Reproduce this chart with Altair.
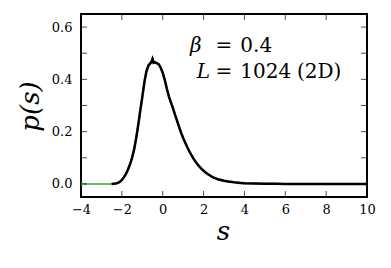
import altair as alt
import pandas as pd

# Histogram p(s) (black)
s_vals = [-2.5, -2.4, -2.3, -2.2, -2.1, -2.0, -1.9, -1.8, -1.7, -1.6, -1.5, -1.4, -1.3, -1.2, -1.1,
          -1.0, -0.9, -0.8, -0.7, -0.6, -0.55, -0.5, -0.45, -0.4, -0.3, -0.2, -0.1, 0.0, 0.1, 0.2, 0.3, 0.4,
          0.5, 0.6, 0.7, 0.8, 0.9, 1.0, 1.1, 1.2, 1.3, 1.4, 1.5, 1.6, 1.7, 1.8, 1.9, 2.0, 2.1, 2.2,
          2.3, 2.4, 2.5, 2.6, 2.7, 2.8, 2.9, 3.0, 3.2, 3.4, 3.6, 3.8, 4.0, 4.5, 5.0, 5.5, 6.0, 10.0]
p_vals = [0.000, 0.001, 0.002, 0.004, 0.008, 0.015, 0.025, 0.038, 0.055, 0.075, 0.100, 0.132, 0.175, 0.225, 0.280,
          0.332, 0.388, 0.430, 0.453, 0.462, 0.468, 0.478, 0.464, 0.466, 0.462, 0.458, 0.445, 0.425, 0.398, 0.365, 0.335, 0.312,
          0.290, 0.265, 0.242, 0.218, 0.196, 0.176, 0.158, 0.141, 0.125, 0.111, 0.098, 0.086, 0.075, 0.066, 0.058, 0.050, 0.044, 0.038,
          0.033, 0.028, 0.024, 0.021, 0.018, 0.016, 0.014, 0.012, 0.009, 0.007, 0.005, 0.004, 0.003, 0.0015, 0.0008, 0.0003, 0.0, 0.0]

# Green reference curve: flat part on the left, then hidden under the black one
g_s = [-4.0, -3.0] + s_vals
g_p = [0.0, 0.0] + p_vals

x_ticks = [-4, -2, 0, 2, 4, 6, 8, 10]
y_ticks = [0.0, 0.1, 0.2, 0.3, 0.4, 0.5, 0.6]

ann_text = ["β", "=", "0.4", "L", "=", "1024", "(2D)"]
ann_s = [1.34, 2.58, 3.80, 1.66, 2.58, 3.80, 6.57]
ann_p = [0.503, 0.503, 0.503, 0.404, 0.404, 0.404, 0.404]
ann_style = ["italic", "normal", "normal", "italic", "normal", "normal", "normal"]

XMIN, XMAX = -4, 10
YMIN, YMAX = -0.05, 0.65
FONT = "DejaVu Serif"

df = pd.DataFrame({"s": s_vals, "p": p_vals})
dg = pd.DataFrame({"s": g_s, "p": g_p})
dxt = pd.DataFrame({"t": x_ticks})
dyt = pd.DataFrame({"t": y_ticks})
dann = pd.DataFrame({"text": ann_text, "s": ann_s, "p": ann_p, "style": ann_style})

xscale = alt.Scale(domain=[XMIN, XMAX], nice=False, zero=False)
yscale = alt.Scale(domain=[YMIN, YMAX], nice=False, zero=False)

xaxis = alt.Axis(values=x_ticks, tickSize=0, domain=False, grid=False, labelFont=FONT,
                 labelFontSize=13, labelColor="black", labelPadding=6, labelFlush=False,
                 title="s", titleFont=FONT, titleFontSize=26, titleFontStyle="italic",
                 titleFontWeight="normal", titleColor="black", titleX=142, titleY=34,
                 titleBaseline="middle", titleAlign="center")
yaxis = alt.Axis(values=y_ticks, tickSize=0, domain=False, grid=False, labelFont=FONT,
                 labelFontSize=13, labelColor="black", labelPadding=9, format=".1f",
                 labelFlush=False,
                 title="p(s)", titleFont=FONT, titleFontSize=26, titleFontStyle="italic",
                 titleFontWeight="normal", titleColor="black", titleX=-51, titleY=92,
                 titleBaseline="middle", titleAlign="center", titleAngle=-90)

green = alt.Chart(dg).mark_line(color="#66bb66", strokeWidth=2).encode(
    x=alt.X("s:Q", scale=xscale, axis=xaxis),
    y=alt.Y("p:Q", scale=yscale, axis=yaxis),
)
black = alt.Chart(df).mark_line(color="black", strokeWidth=2.5).encode(
    x=alt.X("s:Q", scale=xscale),
    y=alt.Y("p:Q", scale=yscale),
)

tick_kw = dict(color="black", thickness=1, size=12, clip=True)
xt_bottom = alt.Chart(dxt).mark_tick(orient="vertical", **tick_kw).encode(
    x=alt.X("t:Q", scale=xscale), y=alt.datum(YMIN))
xt_top = alt.Chart(dxt).mark_tick(orient="vertical", **tick_kw).encode(
    x=alt.X("t:Q", scale=xscale), y=alt.datum(YMAX))
yt_left = alt.Chart(dyt).mark_tick(orient="horizontal", **tick_kw).encode(
    y=alt.Y("t:Q", scale=yscale), x=alt.datum(XMIN))
yt_right = alt.Chart(dyt).mark_tick(orient="horizontal", **tick_kw).encode(
    y=alt.Y("t:Q", scale=yscale), x=alt.datum(XMAX))

ann_it = alt.Chart(dann[dann["style"] == "italic"]).mark_text(
    font=FONT, fontSize=20, fontStyle="italic", align="left", baseline="alphabetic", color="black"
).encode(x=alt.X("s:Q", scale=xscale), y=alt.Y("p:Q", scale=yscale), text="text:N")
ann_rm = alt.Chart(dann[dann["style"] == "normal"]).mark_text(
    font=FONT, fontSize=20, align="left", baseline="alphabetic", color="black"
).encode(x=alt.X("s:Q", scale=xscale), y=alt.Y("p:Q", scale=yscale), text="text:N")

chart = alt.layer(green, black, xt_bottom, xt_top, yt_left, yt_right, ann_it, ann_rm).properties(
    width=286, height=183,
    autosize=alt.AutoSizeParams(type="none"),
    padding={"left": 81, "top": 14, "right": 24, "bottom": 71},
    background="white",
).configure_view(stroke="black", strokeWidth=2)

chart.save("out.html", embed_options={"renderer": "svg", "actions": False})
